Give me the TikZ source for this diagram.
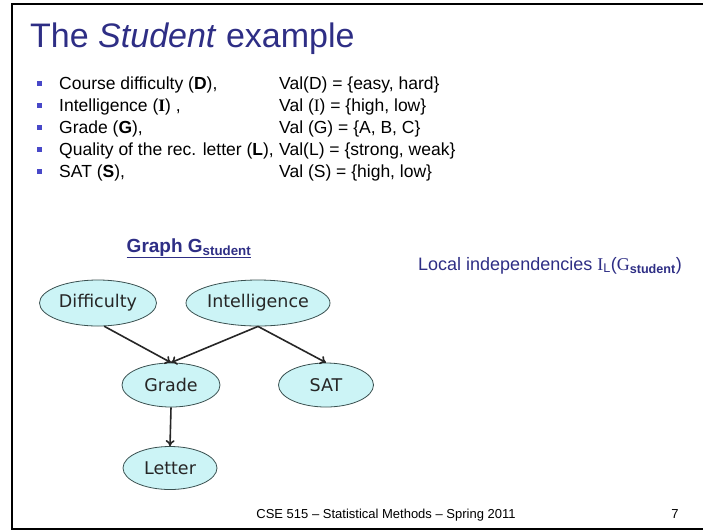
\documentclass[tikz,border=0pt]{standalone}
\usepackage{fontspec}
\setmainfont{Liberation Sans}
\newfontfamily\nodefont{DejaVu Sans}
\newfontfamily\serifI{Liberation Serif}
\usetikzlibrary{shapes.geometric,arrows.meta}
\definecolor{navy}{HTML}{2E2E85}
\definecolor{bulletblue}{HTML}{4848C8}
\definecolor{nodefill}{HTML}{CCF4F6}
\definecolor{nodeline}{HTML}{3A5050}
\begin{document}
\begin{tikzpicture}[x=1pt,y=1pt,
  bnode/.style={ellipse, draw=nodeline, fill=nodefill, line width=0.8pt, inner sep=0pt,
    font=\nodefont\fontsize{17.5}{20}\selectfont, text=black!85},
  edge/.style={-{To[length=6pt,width=9pt]}, line width=1.6pt, draw=black!85},
  rowtext/.style={anchor=base west, inner sep=0pt, font=\fontsize{17.5}{21}\selectfont},
  bul/.style={fill=bulletblue, minimum size=5pt, inner sep=0pt}]
\useasboundingbox (0,0) rectangle (703,-531);
\clip (0,0) rectangle (703,-531);
\fill[white] (0,0) rectangle (703,-531);
\draw[line width=2.5pt] (712,-4) -- (12,-4) -- (12,-529) -- (712,-529);

\node[anchor=base west, inner sep=0pt, text=navy, font=\fontsize{34}{40}\selectfont] (title) at (30,-47) {The \textit{Student} example};

% bullet rows
\foreach \y/\n in {89/1,111/2,133/3,155/4,177/5} {
  \node[bul] (b\n) at (39,-\y+6) {};
}
\node[rowtext] (r1a) at (59,-89) {Course difficulty (\textbf{D}),};
\node[rowtext] (r2a) at (59,-111) {Intelligence ({\serifI\bfseries I}) ,};
\node[rowtext] (r3a) at (59,-133) {Grade (\textbf{G}),};
\node[rowtext] (r4a) at (59,-155) {Quality of the rec. letter (\textbf{L}),};
\node[rowtext] (r5a) at (59,-177) {SAT (\textbf{S}),};
\node[rowtext] (r1b) at (279,-89) {Val(D) = \{easy, hard\}};
\node[rowtext] (r2b) at (279,-111) {Val ({\serifI I}) = \{high, low\}};
\node[rowtext] (r3b) at (279,-133) {Val (G) = \{A, B, C\}};
\node[rowtext] (r4b) at (279,-155) {Val(L) = \{strong, weak\}};
\node[rowtext] (r5b) at (279,-177) {Val (S) = \{high, low\}};

% graph title
\node[anchor=base, inner sep=0pt, text=navy, font=\bfseries\fontsize{19}{22}\selectfont] (gtitle) at (189,-252) {Graph G\textsubscript{student}};
\draw[navy, line width=1.2pt] ([yshift=-5.5pt]gtitle.base west) -- ([yshift=-5.5pt]gtitle.base east);

\node[anchor=base west, inner sep=0pt, text=navy, font=\fontsize{18}{21}\selectfont] (loc) at (418,-270)
  {Local independencies {\serifI I}\textsubscript{L}({\serifI G}\textsubscript{\bfseries student})};

% nodes
\node[bnode, minimum width=117pt, minimum height=46pt] (D) at (98,-303) {Difficulty};
\node[bnode, minimum width=121pt, minimum height=46pt] (I) at (258,-303) {Intelligence};
\node[bnode, minimum width=98pt, minimum height=44pt] (G) at (171,-385) {Grade};
\node[bnode, minimum width=95pt, minimum height=44pt] (S) at (326,-385) {SAT};
\node[bnode, minimum width=94pt, minimum height=43pt] (L) at (170,-468) {Letter};

\draw[edge] (D.-75) -- (G.north);
\draw[edge] (I.south) -- (G.north);
\draw[edge] (I.south) -- (S.north);
\draw[edge] (G.south) -- (L.north);

% footer
\node[anchor=base, inner sep=0pt, font=\fontsize{13}{15}\selectfont] (foot) at (386,-518) {CSE 515 -- Statistical Methods -- Spring 2011};
\node[anchor=base, inner sep=0pt, font=\fontsize{13}{15}\selectfont] (pg) at (675,-518) {7};
\end{tikzpicture}
\end{document}
